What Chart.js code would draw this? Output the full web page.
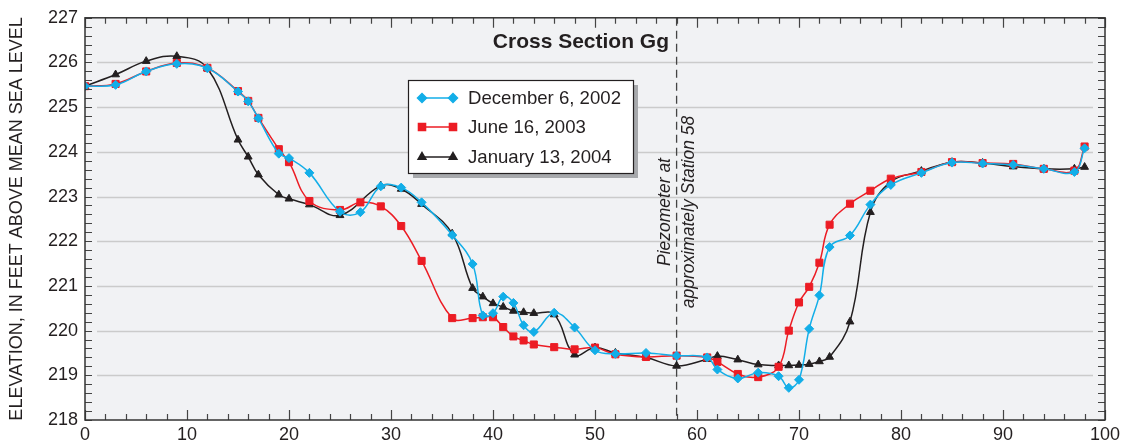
<!DOCTYPE html>
<html>
<head>
<meta charset="utf-8">
<script src="https://cdn.jsdelivr.net/npm/chart.js@4/dist/chart.umd.min.js"></script>
<style>
  body { margin: 0; background: #fff; }
  #wrap { width: 1126px; height: 446px; position: relative; }
</style>
</head>
<body>
<div id="wrap"><canvas id="gg"></canvas></div>
<script>
// station (x) and elevation (y) for each survey
const decX = [0, 3, 6, 9, 12, 15, 16, 17, 19, 20, 22, 25, 27, 29, 31, 33, 36, 38, 39, 40, 41, 42, 43, 44, 46, 48, 50, 52, 55, 58, 61, 62, 64, 66, 68, 69, 70, 71, 72, 73, 75, 77, 79, 82, 85, 88, 91, 94, 97, 98];
const decY = [225.47, 225.5, 225.8, 225.97, 225.87, 225.35, 225.13, 224.75, 223.96, 223.86, 223.53, 222.66, 222.65, 223.23, 223.2, 222.87, 222.14, 221.49, 220.34, 220.39, 220.76, 220.62, 220.12, 219.97, 220.4, 220.07, 219.56, 219.48, 219.5, 219.44, 219.4, 219.13, 218.93, 219.06, 218.98, 218.72, 218.9, 220.04, 220.79, 221.87, 222.13, 222.82, 223.26, 223.53, 223.76, 223.74, 223.71, 223.62, 223.55, 224.08];

const junX = [0, 3, 6, 9, 12, 15, 16, 17, 19, 20, 22, 25, 27, 29, 31, 33, 36, 38, 39, 40, 41, 42, 43, 44, 46, 48, 50, 52, 55, 58, 61, 62, 64, 66, 68, 69, 70, 71, 72, 73, 75, 77, 79, 82, 85, 88, 91, 94, 97, 98];
const junY = [225.47, 225.52, 225.8, 225.99, 225.88, 225.36, 225.14, 224.76, 224.06, 223.77, 222.9, 222.7, 222.87, 222.78, 222.34, 221.56, 220.28, 220.28, 220.3, 220.3, 220.08, 219.87, 219.78, 219.69, 219.63, 219.58, 219.62, 219.47, 219.41, 219.44, 219.4, 219.3, 219.03, 218.96, 219.19, 220.0, 220.63, 220.98, 221.52, 222.37, 222.84, 223.13, 223.4, 223.55, 223.77, 223.75, 223.73, 223.62, 223.58, 224.12];

const janX = [0, 3, 6, 9, 12, 15, 16, 17, 19, 20, 22, 25, 29, 31, 33, 36, 38, 39, 40, 41, 42, 43, 44, 46, 48, 50, 52, 55, 58, 61, 62, 64, 66, 68, 69, 70, 71, 72, 73, 75, 77, 79, 82, 85, 88, 91, 94, 97, 98];
const janY = [225.47, 225.73, 226.03, 226.14, 225.87, 224.27, 223.89, 223.49, 223.04, 222.95, 222.82, 222.58, 223.24, 223.17, 222.83, 222.17, 220.95, 220.76, 220.61, 220.53, 220.44, 220.41, 220.39, 220.36, 219.46, 219.62, 219.5, 219.4, 219.21, 219.36, 219.43, 219.35, 219.24, 219.22, 219.22, 219.23, 219.25, 219.31, 219.41, 220.2, 222.65, 223.33, 223.57, 223.77, 223.75, 223.67, 223.62, 223.62, 223.66];

const seriesNames = ['December 6, 2002', 'June 16, 2003', 'January 13, 2004'];
const xTicks = [0, 10, 20, 30, 40, 50, 60, 70, 80, 90, 100];
const yTicks = [218, 219, 220, 221, 222, 223, 224, 225, 226, 227];
const piezoStation = 58;

const FONT = '"Liberation Sans", Arial, Helvetica, sans-serif';
const BLUE = '#12aee8', RED = '#ec1c24', BLACK = '#231f20';

function pts(xs, ys) { return xs.map((x, i) => ({ x: x, y: ys[i] })); }

function line(label, data, color, style, r) {
    return {
        label: label,
        data: data,
        borderColor: color,
        backgroundColor: color,
        borderWidth: 1.5,
        pointStyle: style,
        pointRadius: r,
        pointBorderWidth: 1,
        tension: 0.4,
    };
}

const extras = {
    id: 'extras',
    beforeDraw(chart) {
        const { ctx, chartArea: a } = chart;
        ctx.save();
        ctx.fillStyle = '#f1f2f4';
        ctx.fillRect(a.left, a.top, a.right - a.left, a.bottom - a.top);
        ctx.restore();
    },
    beforeDatasetsDraw(chart) {
        const { ctx, chartArea: a, scales: { y } } = chart;
        ctx.save();
        ctx.strokeStyle = '#cbcbcb';
        ctx.lineWidth = 1.5;
        yTicks.forEach(v => {
            if (v === 218 || v === 227) return;
            const py = Math.round(y.getPixelForValue(v)) + 0.5;
            ctx.beginPath();
            ctx.moveTo(a.left + 12, py);
            ctx.lineTo(a.right - 12, py);
            ctx.stroke();
        });
        // piezometer line
        const px = chart.scales.x.getPixelForValue(piezoStation);
        ctx.strokeStyle = '#444';
        ctx.lineWidth = 1.3;
        ctx.setLineDash([8, 5]);
        ctx.beginPath();
        ctx.moveTo(px, a.top);
        ctx.lineTo(px, a.bottom);
        ctx.stroke();
        ctx.restore();
    },
    afterDraw(chart) {
        const { ctx, chartArea: a, scales: { x, y } } = chart;
        ctx.save();
        // ticks, inward
        ctx.strokeStyle = '#444';
        ctx.lineWidth = 1.2;
        ctx.beginPath();
        for (let v = 0; v <= 100; v += 2) {
            const px = Math.round(x.getPixelForValue(v)) + 0.5;
            const len = v % 10 === 0 ? 10 : 6;
            ctx.moveTo(px, a.bottom); ctx.lineTo(px, a.bottom - len);
            ctx.moveTo(px, a.top); ctx.lineTo(px, a.top + len);
        }
        for (let k = 0; k <= 45; k++) {
            const py = Math.round(y.getPixelForValue(218 + k * 0.2)) + 0.5;
            ctx.moveTo(a.left, py); ctx.lineTo(a.left + 7, py);
            ctx.moveTo(a.right, py); ctx.lineTo(a.right - 7, py);
        }
        ctx.stroke();
        // frame
        ctx.strokeStyle = '#333';
        ctx.lineWidth = 1.5;
        ctx.strokeRect(a.left, a.top, a.right - a.left, a.bottom - a.top);

        // title
        ctx.fillStyle = '#231f20';
        ctx.font = 'bold 21px ' + FONT;
        ctx.textAlign = 'right';
        ctx.textBaseline = 'middle';
        ctx.fillText('Cross Section Gg', 669, 42);

        // piezometer note
        ctx.save();
        ctx.translate(677, 212);
        ctx.rotate(-Math.PI / 2);
        ctx.font = 'italic 17.5px ' + FONT;
        ctx.textAlign = 'center';
        ctx.fillText('Piezometer at', 0, -12);
        ctx.fillText('approximately Station 58', 0, 12);
        ctx.restore();

        // legend box
        const bx = 408, by = 80, bw = 225, bh = 93;
        ctx.fillStyle = '#a7a9ac';
        ctx.fillRect(bx + 5, by + 5, bw, bh);
        ctx.fillStyle = '#fff';
        ctx.fillRect(bx, by, bw, bh);
        ctx.strokeStyle = '#231f20';
        ctx.lineWidth = 1.2;
        ctx.strokeRect(bx + 0.5, by + 0.5, bw, bh);
        const rows = [98, 127, 157];
        chart.data.datasets.forEach((ds, i) => {
            const ry = rows[i];
            ctx.strokeStyle = ds.borderColor;
            ctx.lineWidth = 1.5;
            ctx.beginPath();
            ctx.moveTo(422, ry); ctx.lineTo(453, ry);
            ctx.stroke();
            ctx.fillStyle = ds.backgroundColor;
            const opts = { pointStyle: ds.pointStyle, radius: ds.pointRadius, borderWidth: 1, rotation: 0 };
            Chart.helpers.drawPoint(ctx, opts, 422, ry);
            Chart.helpers.drawPoint(ctx, opts, 453, ry);
            ctx.fillStyle = '#231f20';
            ctx.font = '18.6px ' + FONT;
            ctx.textAlign = 'left';
            ctx.textBaseline = 'middle';
            ctx.fillText(ds.label, 468, ry + 1);
        });
        ctx.restore();
    }
};

new Chart(document.getElementById('gg'), {
    type: 'line',
    data: {
        datasets: [
            line(seriesNames[0], pts(decX, decY), BLUE, 'rectRot', 4.5),
            line(seriesNames[1], pts(junX, junY), RED, 'rect', 5),
            line(seriesNames[2], pts(janX, janY), BLACK, 'triangle', 4.5),
        ],
    },
    options: {
        responsive: true,
        maintainAspectRatio: false,
        animation: false,
        layout: { padding: { top: 13, right: 21, left: 0, bottom: 0 } },
        plugins: { legend: { display: false }, tooltip: { enabled: false } },
        scales: {
            x: {
                type: 'linear',
                min: 0,
                max: 100,
                afterBuildTicks: s => { s.ticks = xTicks.map(v => ({ value: v })); },
                afterFit: s => { s.height = 26; },
                grid: { display: false, drawTicks: false },
                border: { display: false },
                ticks: { padding: 4, color: '#231f20', font: { family: FONT, size: 18 }, maxRotation: 0 },
            },
            y: {
                min: 218,
                max: 227,
                afterBuildTicks: s => { s.ticks = yTicks.map(v => ({ value: v })); },
                afterFit: s => { s.width = 85; },
                grid: { display: false, drawTicks: false },
                border: { display: false },
                ticks: { padding: 7, color: '#231f20', font: { family: FONT, size: 18 } },
                title: {
                    display: true,
                    text: 'ELEVATION, IN FEET ABOVE MEAN SEA LEVEL',
                    color: '#231f20',
                    font: { family: FONT, size: 18 },
                    padding: { top: 6, bottom: 0 },
                },
            },
        },
    },
    plugins: [extras],
});
</script>
</body>
</html>
